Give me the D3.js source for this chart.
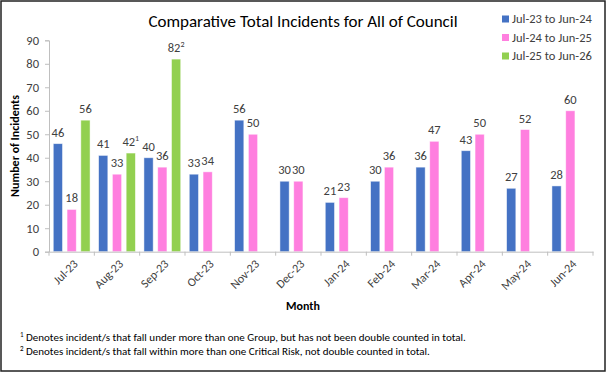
<!DOCTYPE html>
<html lang="en">
<head>
<meta charset="UTF-8">
<title>Comparative Total Incidents</title>
<script src="https://cdn.jsdelivr.net/npm/d3@7"></script>
<style>
    body { margin: 0; background: #fff; }
    svg text { font-family: Carlito, Lato, "Liberation Sans", sans-serif; fill: #404040; }
    .axis path, .axis line { stroke: #bfbfbf; }
</style>
</head>
<body>
<script>
const months = ["Jul-23", "Aug-23", "Sep-23", "Oct-23", "Nov-23", "Dec-23",
                "Jan-24", "Feb-24", "Mar-24", "Apr-24", "May-24", "Jun-24"];
const seriesNames = ["Jul-23 to Jun-24", "Jul-24 to Jun-25", "Jul-25 to Jun-26"];
const fy2324 = [46, 41, 40, 33, 56, 30, 21, 30, 36, 43, 27, 28];
const fy2425 = [18, 33, 36, 34, 50, 30, 23, 36, 47, 50, 52, 60];
const fy2526 = [56, 42, 82];
// footnote markers on some labels
const notes2526 = ["", "1", "2"];
const yTicks = [0, 10, 20, 30, 40, 50, 60, 70, 80, 90];
const colors = ["#4472c4", "#ff7fdf", "#92d050"];
const footnotes = [
    ["1", " Denotes incident/s that fall under more than one Group, but has not been double counted in total."],
    ["2", " Denotes incident/s that fall within more than one Critical Risk, not double counted in total."]
];

const W = 607, H = 373;
const svg = d3.select("body").append("svg").attr("width", W).attr("height", H);

// frame
svg.append("rect").attr("x", 1).attr("y", 1).attr("width", 604).attr("height", 370)
    .attr("fill", "white").attr("stroke", "#222").attr("stroke-width", 1.5);

const pLeft = 49, pRight = 593, pTop = 40.3, pBottom = 251.7;

const x = d3.scaleBand().domain(months).range([pLeft, pRight]);
const xs = d3.scaleBand().domain([0, 1, 2]).range([0, x.bandwidth()])
    .paddingInner(0.33).paddingOuter(0.31);
const y = d3.scaleLinear().domain([0, 90]).range([pBottom, pTop]);

const rows = [];
[fy2324, fy2425, fy2526].forEach((vals, s) => {
    vals.forEach((v, i) => rows.push({ s: s, m: months[i], v: v, note: s === 2 ? notes2526[i] : "" }));
});

// y axis
const yAxis = svg.append("g").attr("class", "axis")
    .attr("transform", "translate(" + pLeft + ",0)")
    .call(d3.axisLeft(y).tickValues(yTicks).tickSize(4).tickPadding(6));
yAxis.selectAll("text").style("font-size", "12.5px");

// bars
svg.selectAll("rect.bar").data(rows).enter().append("rect")
    .attr("class", "bar")
    .attr("x", d => x(d.m) + xs(d.s))
    .attr("y", d => y(d.v))
    .attr("width", xs.bandwidth())
    .attr("height", d => pBottom - y(d.v))
    .attr("fill", d => colors[d.s])
    .attr("stroke", "rgba(255,255,255,0.6)")
    .attr("stroke-width", 0.8);

// x axis
const xAxis = svg.append("g").attr("class", "axis")
    .attr("transform", "translate(0," + pBottom + ")")
    .call(d3.axisBottom(x).tickSize(0).tickFormat(""));
xAxis.selectAll(".sep").data(months.concat(["end"])).enter().append("line")
    .attr("x1", (d, i) => pLeft + i * x.step()).attr("x2", (d, i) => pLeft + i * x.step())
    .attr("y1", 0).attr("y2", 4).attr("stroke", "#bfbfbf");
svg.selectAll("text.xlab").data(months).enter().append("text")
    .attr("class", "xlab")
    .attr("transform", d => "translate(" + (x(d) + x.bandwidth() / 2 + 4) + "," + (pBottom + 10) + ") rotate(-45)")
    .attr("text-anchor", "end")
    .attr("dy", "0.35em")
    .style("font-size", "12px")
    .text(d => d);

// data labels
const lab = svg.selectAll("text.val").data(rows).enter().append("text")
    .attr("class", "val")
    .attr("x", d => x(d.m) + xs(d.s) + xs.bandwidth() / 2)
    .attr("y", d => y(d.v) - 7)
    .attr("text-anchor", "middle")
    .style("font-size", "12.5px");
lab.append("tspan").text(d => d.v);
lab.filter(d => d.note).append("tspan")
    .attr("dy", "-5").style("font-size", "8px").text(d => d.note);

// title
svg.append("text").attr("x", 303).attr("y", 27).attr("text-anchor", "middle")
    .style("font-size", "17px").style("fill", "#000")
    .text("Comparative Total Incidents for All of Council");

// axis titles
svg.append("text").attr("transform", "translate(19,146) rotate(-90)")
    .attr("text-anchor", "middle").style("font-size", "12px").style("font-weight", "bold")
    .style("fill", "#000").text("Number of Incidents");
svg.append("text").attr("x", 303).attr("y", 310).attr("text-anchor", "middle")
    .style("font-size", "12px").style("font-weight", "bold").style("fill", "#000")
    .text("Month");

// legend
const lg = svg.selectAll("g.leg").data(seriesNames).enter().append("g")
    .attr("class", "leg")
    .attr("transform", (d, i) => "translate(502," + (19 + i * 18.5) + ")");
lg.append("rect").attr("x", 0).attr("y", -3.5).attr("width", 7).attr("height", 7)
    .attr("fill", (d, i) => colors[i]);
lg.append("text").attr("x", 10).attr("dy", "0.35em").style("font-size", "12.5px").text(d => d);

// footnotes
const fn = svg.selectAll("text.fn").data(footnotes).enter().append("text")
    .attr("class", "fn")
    .attr("x", 20).attr("y", (d, i) => 341 + i * 14)
    .style("font-size", "11px").style("fill", "#000");
fn.append("tspan").attr("dy", "-4").style("font-size", "7px").text(d => d[0]);
fn.append("tspan").attr("dy", "4").text(d => d[1]);
</script>
</body>
</html>
